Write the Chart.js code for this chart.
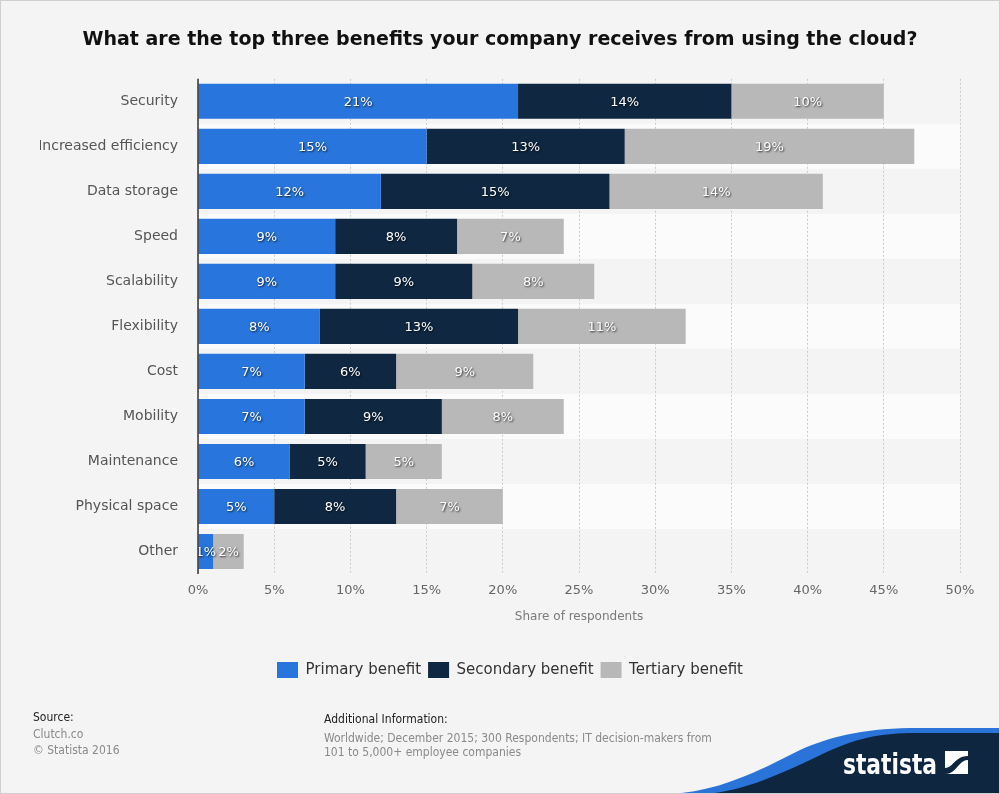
<!DOCTYPE html>
<html>
<head>
<meta charset="utf-8">
<script src="https://cdn.jsdelivr.net/npm/chart.js@4.4.1/dist/chart.umd.min.js"></script>
<style>
  html, body { margin: 0; padding: 0; background: #f4f4f4; }
  #wrap { position: relative; width: 1000px; height: 794px; overflow: hidden; background: #f4f4f4; }
  #c { position: absolute; left: 0; top: 0; }
  #frame { position: absolute; left: 0; top: 0; width: 1000px; height: 794px; box-sizing: border-box; border: 1px solid #cfcfcf; pointer-events: none; }
  .ft { position: absolute; font-family: 'DejaVu Sans Condensed', 'DejaVu Sans', sans-serif; font-stretch: condensed; font-size: 12px; line-height: 16px; white-space: nowrap; }
  .dark { color: #222; }
  .grey { color: #8a8a8a; }
  #logo { position: absolute; left: 0; top: 0; }
</style>
</head>
<body>
<div id="wrap">
  <canvas id="c" width="1000" height="794"></canvas>
  <svg id="logo" width="1000" height="794" viewBox="0 0 1000 794">
    <path d="M 668 794 C 720 792, 760 770, 800 750 C 830 737, 860 729, 910 728 L 1000 728 L 1000 794 Z" fill="#2a74d9"/>
    <path d="M 705 794 C 740 791, 772 778, 810 760 C 845 743, 866 734, 910 733 L 1000 733 L 1000 794 Z" fill="#0e2640"/>
    <text x="843" y="774" fill="#ffffff" font-family="'DejaVu Sans Condensed','DejaVu Sans',sans-serif" font-stretch="condensed" font-weight="bold" font-size="29" textLength="94" lengthAdjust="spacingAndGlyphs">statista</text>
    <rect x="945" y="751" width="23" height="23" fill="#ffffff"/>
    <path d="M 945 768 C 953 768, 955 756, 968 756 L 968 760 C 958 760, 957 774, 945 774 Z" fill="#0e2640"/>
  </svg>
  <div class="ft dark" style="left:33px; top:709px;">Source:</div>
  <div class="ft grey" style="left:33px; top:726px;">Clutch.co</div>
  <div class="ft grey" style="left:33px; top:742px;">© Statista 2016</div>
  <div class="ft dark" style="left:324px; top:711px;">Additional Information:</div>
  <div class="ft grey" style="left:324px; top:730px;">Worldwide; December 2015; 300 Respondents; IT decision-makers from</div>
  <div class="ft grey" style="left:324px; top:744px;">101 to 5,000+ employee companies</div>
  <div id="frame"></div>
</div>
<script>
const categories = ['Security', 'Increased efficiency', 'Data storage', 'Speed', 'Scalability', 'Flexibility', 'Cost', 'Mobility', 'Maintenance', 'Physical space', 'Other'];
const primaryBenefit   = [21, 15, 12, 9, 9, 8, 7, 7, 6, 5, 1];
const secondaryBenefit = [14, 13, 15, 8, 9, 13, 6, 9, 5, 8, 0];
const tertiaryBenefit  = [10, 19, 14, 7, 8, 11, 9, 8, 5, 7, 2];
const seriesNames = ['Primary benefit', 'Secondary benefit', 'Tertiary benefit'];
const xTickValues = [0, 5, 10, 15, 20, 25, 30, 35, 40, 45, 50];

const FONT = "'DejaVu Sans', sans-serif";

const bandPlugin = {
  id: 'bands',
  beforeDraw(chart) {
    const {ctx, chartArea} = chart;
    const y = chart.scales.y;
    ctx.save();
    for (let i = 0; i < categories.length; i++) {
      if (i % 2 === 1) {
        const c = y.getPixelForValue(i);
        const h = (chartArea.bottom - chartArea.top) / categories.length;
        ctx.fillStyle = '#fbfbfb';
        ctx.fillRect(chartArea.left, c - h / 2, chartArea.right - chartArea.left, h);
      }
    }
    ctx.restore();
  }
};

const labelPlugin = {
  id: 'barLabels',
  afterDatasetsDraw(chart) {
    const {ctx} = chart;
    ctx.save();
    ctx.font = "13px " + FONT;
    ctx.textAlign = 'center';
    ctx.textBaseline = 'middle';
    chart.data.datasets.forEach((ds, di) => {
      const meta = chart.getDatasetMeta(di);
      meta.data.forEach((bar, i) => {
        const v = ds.data[i];
        if (!v) return;
        const cx = (bar.x + bar.base) / 2;
        ctx.shadowColor = 'rgba(0,0,0,0.75)';
        ctx.shadowBlur = 2;
        ctx.shadowOffsetX = 1;
        ctx.shadowOffsetY = 1;
        ctx.fillStyle = '#ffffff';
        ctx.fillText(v + '%', cx, bar.y + 1);
      });
    });
    ctx.restore();
  }
};

const axisLinePlugin = {
  id: 'axisLine',
  afterDatasetsDraw(chart) {
    const {ctx, chartArea} = chart;
    ctx.save();
    ctx.strokeStyle = '#333333';
    ctx.lineWidth = 1.5;
    ctx.beginPath();
    ctx.moveTo(chartArea.left, chartArea.top);
    ctx.lineTo(chartArea.left, chartArea.bottom);
    ctx.stroke();
    ctx.restore();
  }
};

const legendShiftPlugin = {
  id: 'legendShift',
  afterLayout(chart) {
    if (chart.legend) {
      chart.legend.left += 10;
      chart.legend.right += 10;
    }
  }
};

new Chart(document.getElementById('c'), {
  type: 'bar',
  data: {
    labels: categories,
    datasets: [
      { label: seriesNames[0], data: primaryBenefit, backgroundColor: '#2876dd' },
      { label: seriesNames[1], data: secondaryBenefit, backgroundColor: '#0f2741' },
      { label: seriesNames[2], data: tertiaryBenefit, backgroundColor: '#b8b8b8' }
    ]
  },
  options: {
    indexAxis: 'y',
    responsive: false,
    animation: false,
    devicePixelRatio: 1,
    layout: { padding: { left: 40, right: 40, top: 0, bottom: 106 } },
    datasets: { bar: { barPercentage: 0.78, categoryPercentage: 1.0 } },
    scales: {
      x: {
        stacked: true,
        min: 0, max: 50,
        afterBuildTicks(scale) { scale.ticks = xTickValues.map(v => ({ value: v })); },
        afterFit(scale) { scale.height = 81; },
        grid: { color: '#cccccc', lineWidth: 1, drawTicks: false, tickBorderDash: [2, 2] },
        border: { display: false, dash: [2, 2] },
        ticks: { padding: 9, color: '#666666', font: { family: FONT, size: 13 }, callback: v => v + '%' },
        title: { display: true, text: 'Share of respondents', color: '#7a7a7a', font: { family: FONT, size: 12 }, padding: { top: 0, bottom: 31 } }
      },
      y: {
        stacked: true,
        afterFit(scale) { scale.width = 158; },
        grid: { display: false, drawTicks: false },
        border: { display: false },
        ticks: { padding: 20, color: '#555555', font: { family: FONT, size: 14 } }
      }
    },
    plugins: {
      title: {
        display: true,
        text: 'What are the top three benefits your company receives from using the cloud?',
        color: '#111111',
        font: { family: FONT, size: 19, weight: 'bold' },
        padding: { top: 29, bottom: 27 }
      },
      legend: {
        position: 'bottom',
        labels: { boxWidth: 21, boxHeight: 16, padding: 7, color: '#333333', font: { family: FONT, size: 15 } }
      },
      tooltip: { enabled: false }
    }
  },
  plugins: [bandPlugin, labelPlugin, axisLinePlugin, legendShiftPlugin]
});
</script>
</body>
</html>
